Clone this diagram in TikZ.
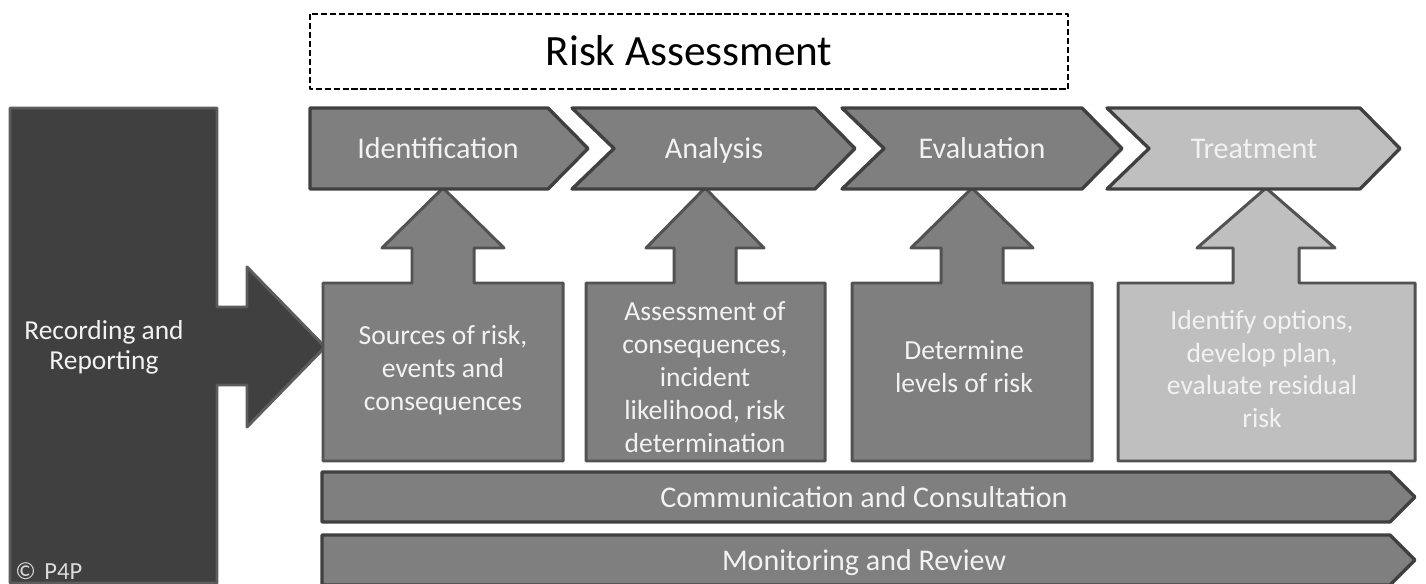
\documentclass[tikz,border=0pt]{standalone}
\usepackage{fontspec}
\setmainfont{Carlito}

\definecolor{stepgray}{RGB}{127,127,127}
\definecolor{treatgray}{RGB}{191,191,191}
\definecolor{stepline}{RGB}{64,64,64}
\definecolor{boxline}{RGB}{82,82,82}
\definecolor{recfill}{RGB}{64,64,64}
\definecolor{recline}{RGB}{92,92,92}
\definecolor{labelwhite}{RGB}{242,242,242}

\begin{document}
\begin{tikzpicture}[x=0.02cm,y=-0.02cm,line join=round,
    steplabel/.style={text=labelwhite,anchor=base,font=\fontsize{17.1}{20}\selectfont},
    boxlabel/.style={text=labelwhite,align=center,inner sep=0pt,font=\fontsize{15.7}{18.7}\selectfont},
    stepshape/.style={draw=stepline,line width=1.9pt},
    boxshape/.style={draw=boxline,line width=1.7pt}]
        \useasboundingbox (0,0) rectangle (1426,584);

        % heading in its dashed frame
        \draw[line width=0.75pt,dash pattern=on 3.5pt off 1.6pt] (310,14) rectangle (1068,89);
        \node[anchor=base,font=\fontsize{24.6}{28}\selectfont] (title) at (689,66) {Risk Assessment};

        % recording and reporting, with its arrow into the first box
        \draw[fill=recfill,draw=recline,line width=1.7pt]
            (10,108) -- (217,108) -- (217,307) -- (247,307) -- (247,267) -- (325,347)
            -- (247,427) -- (247,385) -- (217,385) -- (217,583) -- (10,583) -- cycle;
        \node[text=labelwhite,align=center,inner sep=0pt,font=\fontsize{15.6}{17}\selectfont]
            (record) at (104,347) {Recording and\\Reporting};
        \node[text=labelwhite!90!black,anchor=base west,inner sep=0pt,font=\fontsize{14}{16}\selectfont]
            (copy) at (15,579) {©\hspace{0.35em}P4P};

        % boxes, each with an arrow up to its step
        \foreach \l/\r/\c/\s/\h/\f in {323/563/443/31/61/stepgray,
                                        586/825/705/31/59/stepgray,
                                        852/1092/972/31/61/stepgray,
                                        1118/1415/1266/33/69/treatgray} {
            \draw[boxshape,fill=\f]
                (\l,283) -- ({\c-\s},283) -- ({\c-\s},248) -- ({\c-\h},248) -- (\c,188)
                -- ({\c+\h},248) -- ({\c+\s},248) -- ({\c+\s},283) -- (\r,283)
                -- (\r,461) -- (\l,461) -- cycle;
        }

        % the four steps
        \draw[stepshape,fill=stepgray]
            (310,108) -- (548,108) -- (588,148.5) -- (548,189) -- (310,189) -- cycle;
        \foreach \l/\t/\f in {572/855/stepgray,842/1122/stepgray,1107/1400/treatgray} {
            \draw[stepshape,fill=\f]
                (\l,108) -- ({\t-40},108) -- (\t,148.5) -- ({\t-40},189) -- (\l,189)
                -- ({\l+42},148.5) -- cycle;
        }

        % the two running bars
        \foreach \t/\b in {472/522,535/585} {
            \draw[stepshape,fill=stepgray]
                (322,\t) -- (1390,\t) -- (1415,{(\t+\b)/2}) -- (1390,\b) -- (322,\b) -- cycle;
        }

        \node[steplabel] (ident) at (438,159) {Identification};
        \node[steplabel] (analysis) at (714,159) {Analysis};
        \node[steplabel] (evaluation) at (982,159) {Evaluation};
        \node[steplabel] (treatment) at (1254,159) {Treatment};

        \node[boxlabel] (sources) at (443,370) {Sources of risk,\\events and\\consequences};
        \node[boxlabel] (assess) at (705,377) {Assessment of\\consequences,\\incident\\likelihood, risk\\determination};
        \node[boxlabel] (levels) at (964,367) {Determine\\levels of risk};
        \node[boxlabel] (options) at (1262,369) {Identify options,\\develop plan,\\evaluate residual\\risk};

        \node[steplabel] (comm) at (864,507) {Communication and Consultation};
        \node[steplabel] (monitor) at (864,570) {Monitoring and Review};
    \end{tikzpicture}
\end{document}
